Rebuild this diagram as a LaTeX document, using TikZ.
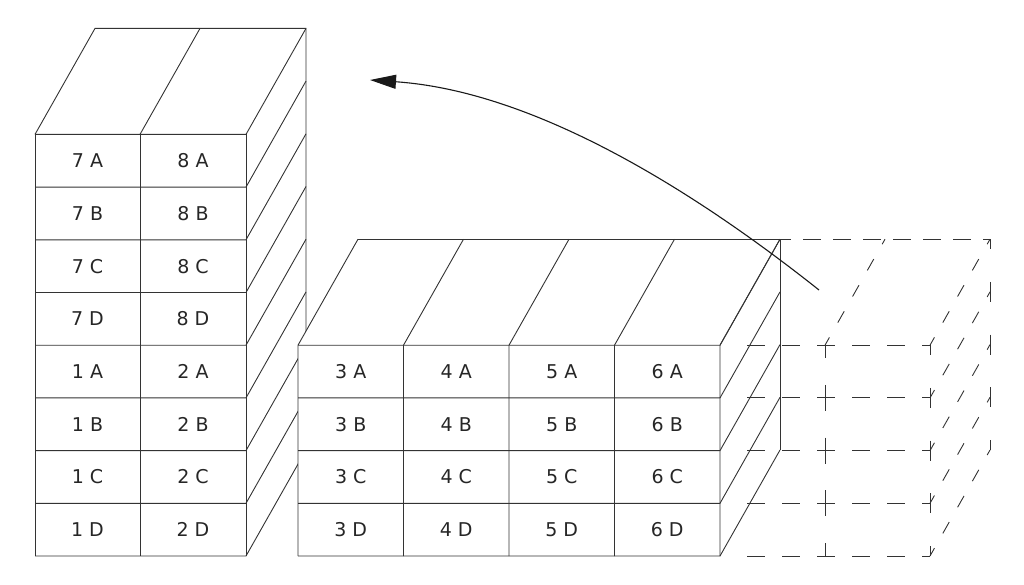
\documentclass[tikz,border=0pt]{standalone}
\usepackage{fontspec}
\setmainfont{DejaVu Sans}
\usetikzlibrary{arrows.meta}
\begin{document}
\begin{tikzpicture}[x=1pt,y=-1pt,
  ln/.style={draw=black!80,line width=0.9pt,line join=miter},
  dh/.style={draw=black!80,line width=0.9pt,dash pattern=on 18pt off 17pt},
  dd/.style={draw=black!80,line width=0.9pt,dash pattern=on 13pt off 17pt},
  dv/.style={draw=black!80,line width=0.9pt},
  lbl/.style={font=\fontsize{19}{20}\selectfont,inner sep=0pt,text=black!85}]
\useasboundingbox (0,0) rectangle (1024,585);
\def\dx{60}\def\dy{106}
% ---------- left stack ----------
\foreach \k in {0,...,8}{
  \pgfmathsetmacro\yy{556-(8-\k)*52.7}
  \draw[ln] (35,\yy) -- (246,\yy) -- (246+\dx,\yy-\dy);
}
\draw[ln] (35,134.4) -- (35,556);
\draw[ln] (140,134.4) -- (140,556);
\draw[ln] (246,134.4) -- (246,556);
\draw[ln] (35,134.4) -- (95,28.4) -- (306,28.4) -- (306,450);
\draw[ln] (140,134.4) -- (200,28.4);
% ---------- right block ----------
\fill[white] (298,556) -- (298,345.2) -- (358,239.2) -- (780,239.2) -- (780,450) -- (720,556) -- cycle;
\foreach \k in {0,...,4}{
  \pgfmathsetmacro\yy{556-(4-\k)*52.7}
  \draw[ln] (298,\yy) -- (720,\yy) -- (720+\dx,\yy-\dy);
}
\foreach \c in {0,...,4}{
  \pgfmathsetmacro\xx{298+\c*105.5}
  \draw[ln] (\xx,556) -- (\xx,345.2) -- (\xx+\dx,239.2);
}
\draw[ln] (358,239.2) -- (780,239.2) -- (780,450);
% ---------- dashed block ----------
\foreach \k in {0,...,4}{
  \pgfmathsetmacro\yy{556-(4-\k)*52.7}
  \draw[dh] (747,\yy) -- (930,\yy);
}
\foreach \k in {1,...,4}{
  \pgfmathsetmacro\yy{556-(4-\k)*52.7}
  \draw[dd,dash phase=4pt] (930,\yy) -- (990,\yy-\dy);
}
\draw[dd,dash phase=4pt] (930,345.2) -- (990,239.2);
\draw[dd,dash phase=4pt] (825,345.2) -- (885,239.2);
\foreach \k in {0,...,3}{
  \pgfmathsetmacro\ya{345.2+\k*52.7}
  \draw[dv,dash pattern=on 13pt off 26.7pt on 13pt] (825,\ya) -- (825,\ya+52.7);
  \draw[dv,dash pattern=on 10pt off 32.7pt on 10pt] (930,\ya) -- (930,\ya+52.7);
}
\foreach \k in {0,...,3}{
  \pgfmathsetmacro\ya{239.2+\k*52.7}
  \draw[dv,dash pattern=on 10pt off 32.7pt on 10pt] (990,\ya) -- (990,\ya+52.7);
}
\draw[dv,dash pattern=on 18pt off 12pt,dash phase=-23pt] (780,239.2) -- (990,239.2);
% ---------- labels ----------
\foreach \r/\a/\b in {0/7 A/8 A,1/7 B/8 B,2/7 C/8 C,3/7 D/8 D,4/1 A/2 A,5/1 B/2 B,6/1 C/2 C,7/1 D/2 D}{
  \pgfmathsetmacro\yc{134.4+\r*52.7+26.35}
  \node[lbl] (L\r a) at (87.5,\yc) {\a};
  \node[lbl] (L\r b) at (193,\yc) {\b};
}
\foreach \r/\l in {0/A,1/B,2/C,3/D}{
  \pgfmathsetmacro\yc{345.2+\r*52.7+26.35}
  \foreach \c/\n in {0/3,1/4,2/5,3/6}{
    \pgfmathsetmacro\xc{298+\c*105.5+52.75}
    \node[lbl] (R\r\c) at (\xc,\yc) {\n\ \l};
  }
}
% ---------- arrow ----------
\coordinate (from) at (819,290);
\coordinate (to) at (370,80);
\draw[draw=black!90,line width=1.1pt,-{Triangle[length=26pt,width=14pt]}] (from) .. controls (712,205) and (545,92) .. (to);
\end{tikzpicture}
\end{document}
